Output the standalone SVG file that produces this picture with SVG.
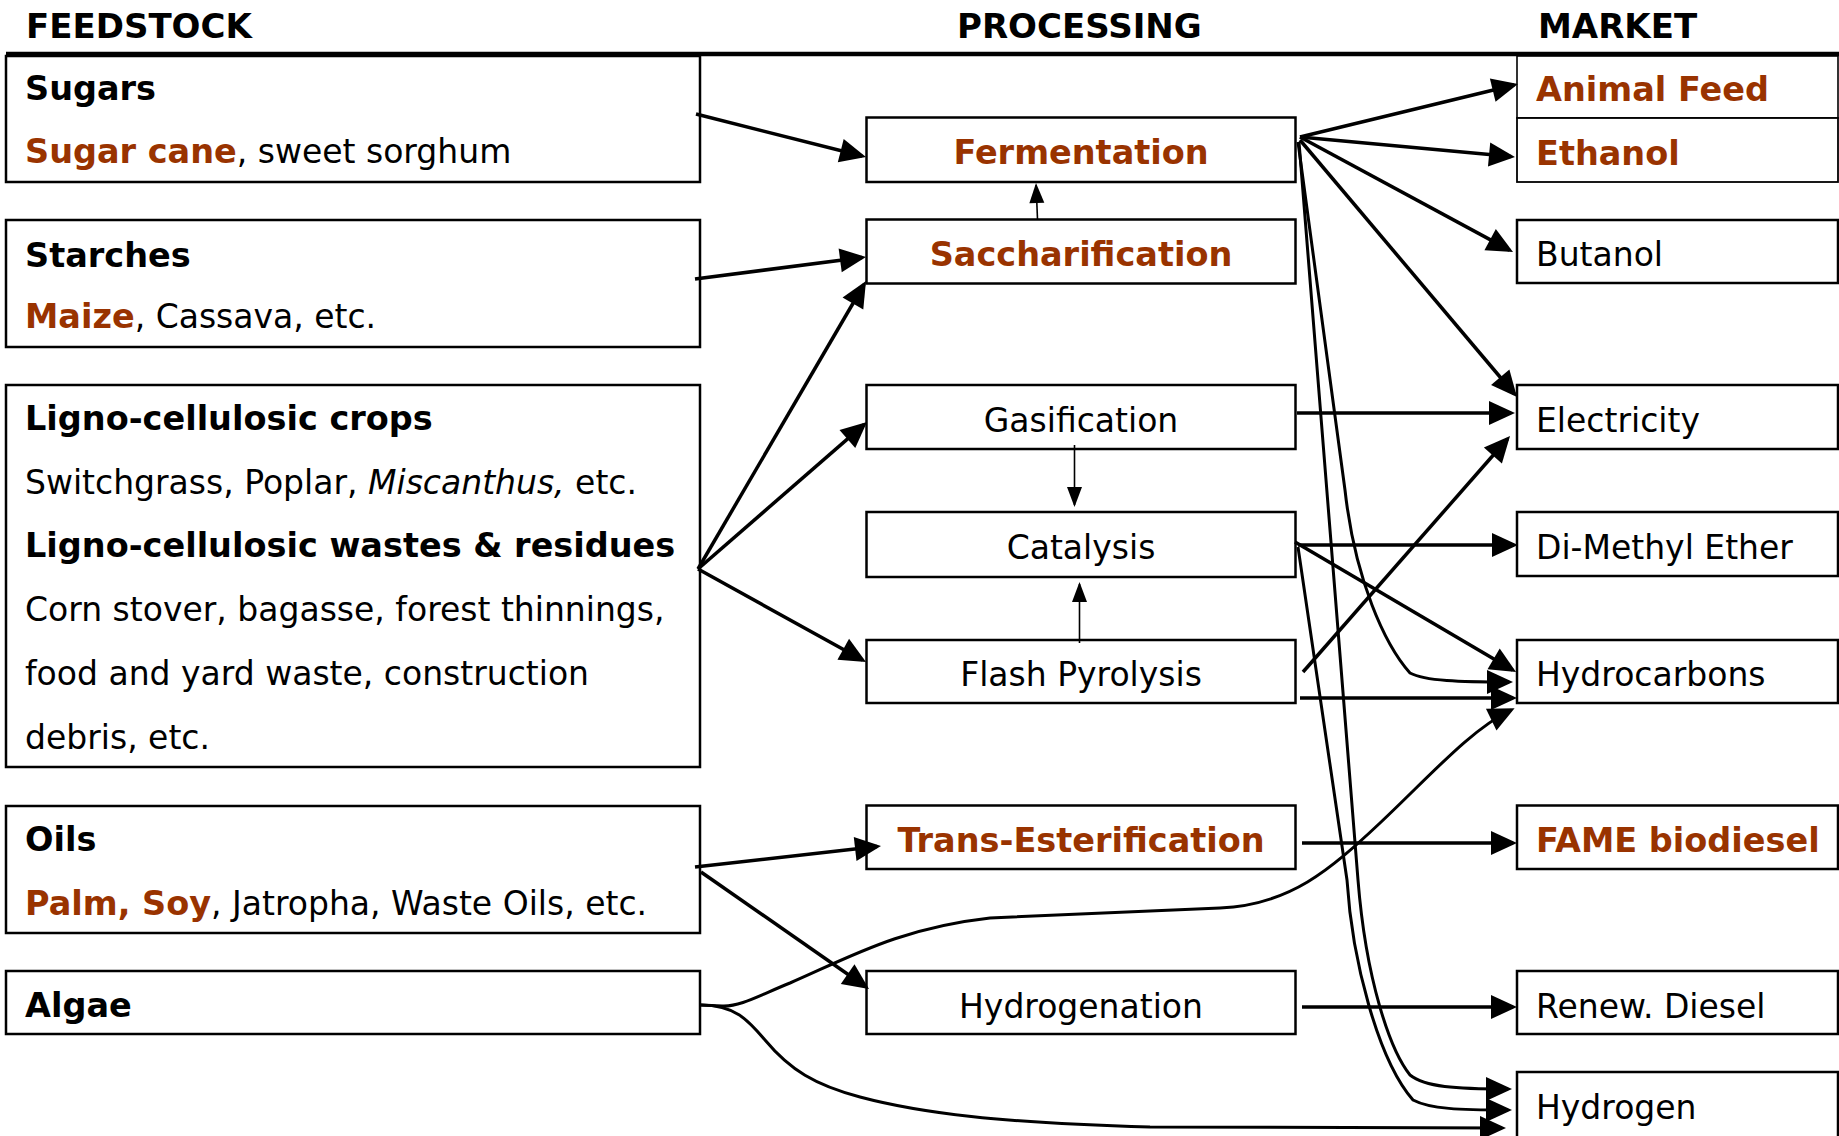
<svg xmlns="http://www.w3.org/2000/svg" width="1839" height="1136" viewBox="0 0 1839 1136">
<style>
text{font-family:"DejaVu Sans","Verdana",sans-serif;font-size:33px;fill:#000}
.b{font-weight:bold;font-size:33.5px}
.h{font-weight:bold;font-size:34px}
.o{fill:#993300;font-weight:bold;font-size:33.5px}
.i{font-style:italic}
.m{text-anchor:middle}
rect{fill:#fff;stroke:#000;stroke-width:2.5}
.c path{fill:none;stroke:#000;stroke-width:3.5}
.c path.t{stroke-width:1.6;marker-end:url(#ahs)}
.c path.k{marker-end:url(#ah)}
.c path.w{stroke-width:3}
</style>
<defs>
<marker id="ah" markerUnits="userSpaceOnUse" markerWidth="27" markerHeight="25" refX="22" refY="12" orient="auto" overflow="visible"><path d="M0,0 L26,12 L0,24 Z" fill="#000"/></marker>
<marker id="ahs" markerUnits="userSpaceOnUse" markerWidth="21" markerHeight="17" refX="18" refY="7.5" orient="auto" overflow="visible"><path d="M0,0 L20,7.5 L0,15 Z" fill="#000"/></marker>
</defs>
<rect width="1839" height="1136" style="fill:#fff;stroke:none"/>
<g id="headers">
<text class="h" x="26" y="38">FEEDSTOCK</text>
<text class="h" x="957" y="38">PROCESSING</text>
<text class="h" x="1538" y="38">MARKET</text>
<line x1="6" y1="54" x2="1839" y2="54" stroke="#000" stroke-width="4.5"/>
</g>
<g id="sugars"><rect x="6" y="56" width="694" height="126"/>
<text class="b" x="25" y="100">Sugars</text>
<text x="25" y="163"><tspan class="o">Sugar cane</tspan>, sweet sorghum</text></g>
<g id="starches"><rect x="6" y="220" width="694" height="127"/>
<text class="b" x="25" y="267">Starches</text>
<text x="25" y="328"><tspan class="o">Maize</tspan>, Cassava, etc.</text></g>
<g id="ligno"><rect x="6" y="385" width="694" height="382"/>
<text class="b" x="25" y="430">Ligno-cellulosic crops</text>
<text x="25" y="494">Switchgrass, Poplar, <tspan class="i">Miscanthus,</tspan> etc.</text>
<text class="b" x="25" y="557">Ligno-cellulosic wastes &amp; residues</text>
<text x="25" y="621">Corn stover, bagasse, forest thinnings,</text>
<text x="25" y="685">food and yard waste, construction</text>
<text x="25" y="749">debris, etc.</text></g>
<g id="oils"><rect x="6" y="806" width="694" height="127"/>
<text class="b" x="25" y="851">Oils</text>
<text x="25" y="915"><tspan class="o">Palm, Soy</tspan>, Jatropha, Waste Oils, etc.</text></g>
<g id="algae"><rect x="6" y="971" width="694" height="63"/>
<text class="b" x="25" y="1017">Algae</text></g>

<g id="fermentation"><rect x="866.5" y="117.5" width="429" height="64.5"/><text class="o m" x="1081" y="164">Fermentation</text></g>
<g id="saccharification"><rect x="866.5" y="219.5" width="429" height="64"/><text class="o m" x="1081" y="266">Saccharification</text></g>
<g id="gasification"><rect x="866.5" y="385" width="429" height="64"/><text class="m" x="1081" y="432">Gasification</text></g>
<g id="catalysis"><rect x="866.5" y="512" width="429" height="65"/><text class="m" x="1081" y="559">Catalysis</text></g>
<g id="flash-pyrolysis"><rect x="866.5" y="640" width="429" height="63"/><text class="m" x="1081" y="686">Flash Pyrolysis</text></g>
<g id="trans-esterification"><rect x="866.5" y="805.5" width="429" height="63.5"/><text class="o m" x="1081" y="852">Trans-Esterification</text></g>
<g id="hydrogenation"><rect x="866.5" y="971" width="429" height="63"/><text class="m" x="1081" y="1018">Hydrogenation</text></g>

<g id="animal-feed"><rect x="1517" y="56" width="321" height="62" style="stroke-width:1.6"/><text class="o" x="1536" y="101">Animal Feed</text></g>
<g id="ethanol"><rect x="1517" y="118" width="321" height="64" style="stroke-width:1.8"/><text class="o" x="1536" y="165">Ethanol</text></g>
<g id="butanol"><rect x="1517" y="220" width="321" height="63"/><text x="1536" y="266">Butanol</text></g>
<g id="electricity"><rect x="1517" y="385" width="321" height="64"/><text x="1536" y="432">Electricity</text></g>
<g id="dme"><rect x="1517" y="512" width="321" height="64"/><text x="1536" y="559">Di-Methyl Ether</text></g>
<g id="hydrocarbons"><rect x="1517" y="640" width="321" height="63"/><text x="1536" y="686">Hydrocarbons</text></g>
<g id="fame"><rect x="1517" y="805.5" width="321" height="63.5"/><text class="o" x="1536" y="852">FAME biodiesel</text></g>
<g id="renew-diesel"><rect x="1517" y="971" width="321" height="63"/><text x="1536" y="1018">Renew. Diesel</text></g>
<g id="hydrogen"><rect x="1517" y="1072" width="321" height="70"/><text x="1536" y="1119">Hydrogen</text></g>

<g id="connectors" class="c">
<path class="k" d="M696,114 L862.1,156"/>
<path class="k" d="M695,279 L862,257.5"/>
<path class="k" d="M698,569 L864,284.5"/>
<path class="k" d="M698,569 L864,424.6"/>
<path class="k" d="M698,569 L862.5,660"/>
<path class="k" d="M695,867 L877,846.5"/>
<path class="k" d="M701,872 L865.7,986.7"/>
<path class="k w" d="M701,1005 L722,1006 C740,1007 760,995 790,983 C850,957 900,928 990,918 L1220,908 C1290,905 1330,870 1380,823 C1430,776 1470,730 1511,710"/>
<path class="k w" d="M701,1005 C735,1005 748,1020 765,1040 C790,1070 815,1085 860,1097 C920,1113 1000,1123 1150,1127 L1502,1128"/>
<path class="k" d="M1300,137 L1514.1,85"/>
<path class="k" d="M1300,137 L1511,156.6"/>
<path class="k" d="M1300,137 L1509.5,250.1"/>
<path class="k" d="M1300,140 L1514.4,394"/>
<path class="k w" d="M1298,142 L1345,490 C1355,580 1385,645 1410,673 C1425,681 1460,682 1509,682"/>
<path class="k w" d="M1299,142 L1358,880 C1366,980 1390,1050 1410,1075 C1425,1087 1455,1089 1508,1089"/>
<path class="k w" d="M1298,547 L1347,880 C1352,960 1378,1060 1413,1100 C1430,1109 1460,1110 1508,1110"/>
<path class="k" d="M1298,545 L1514,545"/>
<path class="k" d="M1295,542 L1512.6,670"/>
<path class="k" d="M1297,413 L1511,413"/>
<path class="k" d="M1303,672 L1507.4,439"/>
<path class="k" d="M1300,698 L1513,698"/>
<path class="k" d="M1302,843 L1513,843"/>
<path class="k" d="M1302,1007 L1513,1007"/>
<path class="t" d="M1037.5,219 L1036.1,185"/>
<path class="t" d="M1074.5,445 L1074.5,505"/>
<path class="t" d="M1079.5,643 L1079.5,584"/>
</g>
</svg>
